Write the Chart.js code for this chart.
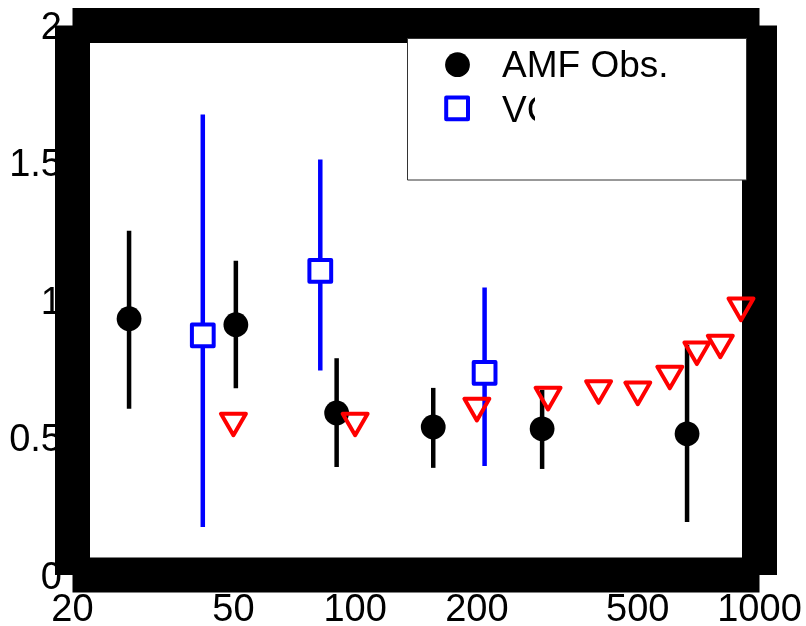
<!DOCTYPE html>
<html><head><meta charset="utf-8">
<style>html,body{margin:0;padding:0;background:#fff;overflow:hidden}#wrap{width:806px;height:626px;position:relative}</style>
<script src="https://cdn.jsdelivr.net/npm/chart.js@4/dist/chart.umd.min.js"></script>
</head><body><div id="wrap"><canvas id="c" width="806" height="626"></canvas></div>
<script>
// ---- data ----
const xTicks = [20, 50, 100, 200, 500, 1000];
const xTickLabels = ['20', '50', '100', '200', '500', '1000'];
const yTicks = [0, 0.5, 1, 1.5, 2];
const yTickLabels = ['0', '0.5', '1', '1.5', '2'];

const amfX  = [27.6, 50.7, 90, 156, 290, 662];
const amfY  = [0.933, 0.911, 0.590, 0.539, 0.532, 0.514];
const amfLo = [0.605, 0.680, 0.393, 0.390, 0.386, 0.193];
const amfHi = [1.253, 1.144, 0.789, 0.681, 0.674, 0.838];

const vcX  = [42, 82, 209];
const vcY  = [0.872, 1.107, 0.736];
const vcLo = [0.175, 0.744, 0.397];
const vcHi = [1.676, 1.512, 1.046];

const redX = [50, 100, 200, 300, 400, 500, 600, 700, 800, 900];
const redY = [0.561, 0.561, 0.615, 0.655, 0.679, 0.674, 0.732, 0.820, 0.845, 0.980];

const legendLabels = ['AMF Obs.', 'VC'];

const FONT = '"Liberation Sans", Arial, Helvetica, sans-serif';

function pts(xs, ys) { return xs.map((x, i) => ({x: x, y: ys[i]})); }

const errPlugin = {
  id: 'errbars',
  beforeDatasetDraw(chart, args) {
    const ds = chart.data.datasets[args.index];
    if (!ds.errLo) return;
    const xs = chart.scales.x, ys = chart.scales.y, ctx = chart.ctx;
    ctx.save();
    ctx.strokeStyle = ds.errColor;
    ctx.lineWidth = 4.5;
    ctx.lineCap = 'butt';
    ds.data.forEach((p, i) => {
      const px = xs.getPixelForValue(p.x);
      ctx.beginPath();
      ctx.moveTo(px, ys.getPixelForValue(ds.errLo[i]));
      ctx.lineTo(px, ys.getPixelForValue(ds.errHi[i]));
      ctx.stroke();
    });
    ctx.restore();
  }
};

const framePlugin = {
  id: 'frame',
  beforeDatasetsDraw(chart) {
    const ctx = chart.ctx, a = chart.chartArea;
    const xs = chart.scales.x, ys = chart.scales.y;
    ctx.save();
    ctx.fillStyle = '#000';
    ctx.font = '38px ' + FONT;
    ctx.textAlign = 'center';
    ctx.textBaseline = 'alphabetic';
    xTicks.forEach((v, i) => ctx.fillText(xTickLabels[i], xs.getPixelForValue(v), 621));
    ctx.textAlign = 'right';
    yTicks.forEach((v, i) => ctx.fillText(yTickLabels[i], 62, ys.getPixelForValue(v) + 13.5));
    // thick box: four separate butt-capped segments
    ctx.strokeStyle = '#000';
    ctx.lineWidth = 35;
    ctx.lineCap = 'butt';
    const segs = [
      [a.left, a.top, a.right, a.top],
      [a.left, a.bottom, a.right, a.bottom],
      [a.left, a.top, a.left, a.bottom],
      [a.right, a.top, a.right, a.bottom]
    ];
    segs.forEach(s => { ctx.beginPath(); ctx.moveTo(s[0], s[1]); ctx.lineTo(s[2], s[3]); ctx.stroke(); });
    ctx.restore();
    ctx.lineJoin = 'round';
  },
  afterDatasetsDraw(chart) {
    const ctx = chart.ctx;
    ctx.save();
    ctx.fillStyle = '#fff';
    ctx.fillRect(407.5, 38.5, 339, 141.5);
    ctx.strokeStyle = '#333';
    ctx.lineWidth = 1;
    ctx.strokeRect(407.5, 38.5, 339, 141.5);
    // symbols
    ctx.fillStyle = '#000';
    ctx.beginPath(); ctx.arc(457.5, 64.7, 12.4, 0, Math.PI * 2); ctx.fill();
    ctx.strokeStyle = '#0000ff';
    ctx.lineWidth = 4;
    ctx.lineJoin = 'round';
    ctx.strokeRect(446.2, 97.5, 21.8, 21.8);
    ctx.font = '37px ' + FONT;
    ctx.textAlign = 'left';
    ctx.textBaseline = 'alphabetic';
    ctx.fillStyle = '#000';
    ctx.fillText(legendLabels[0], 502, 77);
    ctx.save();
    ctx.beginPath(); ctx.rect(490, 85, 45, 50); ctx.clip();
    ctx.fillText(legendLabels[1], 502, 121.5);
    ctx.restore();
    ctx.restore();
  }
};

new Chart(document.getElementById('c'), {
  type: 'scatter',
  data: {
    datasets: [
      { label: 'AMF Obs.', data: pts(amfX, amfY), pointStyle: 'circle', pointRadius: 12.4,
        backgroundColor: '#000', borderColor: '#000', borderWidth: 0, order: 2,
        errLo: amfLo, errHi: amfHi, errColor: '#000', clip: false },
      { label: 'VC', data: pts(vcX, vcY), pointStyle: 'rect', pointRadius: 15.4,
        backgroundColor: '#fff', borderColor: '#0000ff', borderWidth: 4, order: 1,
        errLo: vcLo, errHi: vcHi, errColor: '#0000ff', clip: false },
      { label: 'model', data: pts(redX, redY), pointStyle: 'triangle', rotation: 180, pointRadius: 14.4,
        backgroundColor: 'rgba(0,0,0,0)', borderColor: '#ff0000', borderWidth: 4, order: 0, clip: false }
    ]
  },
  options: {
    responsive: false, animation: false, devicePixelRatio: 1, events: [],
    layout: { padding: { left: 72.5, top: 25.5, right: 46.5, bottom: 51 } },
    plugins: { legend: { display: false }, tooltip: { enabled: false }, title: { display: false } },
    elements: { point: { hoverRadius: 12 } },
    scales: {
      x: { type: 'logarithmic', min: 20, max: 1000, display: false },
      y: { type: 'linear', min: 0, max: 2, display: false }
    }
  },
  plugins: [errPlugin, framePlugin]
});
</script></body></html>
